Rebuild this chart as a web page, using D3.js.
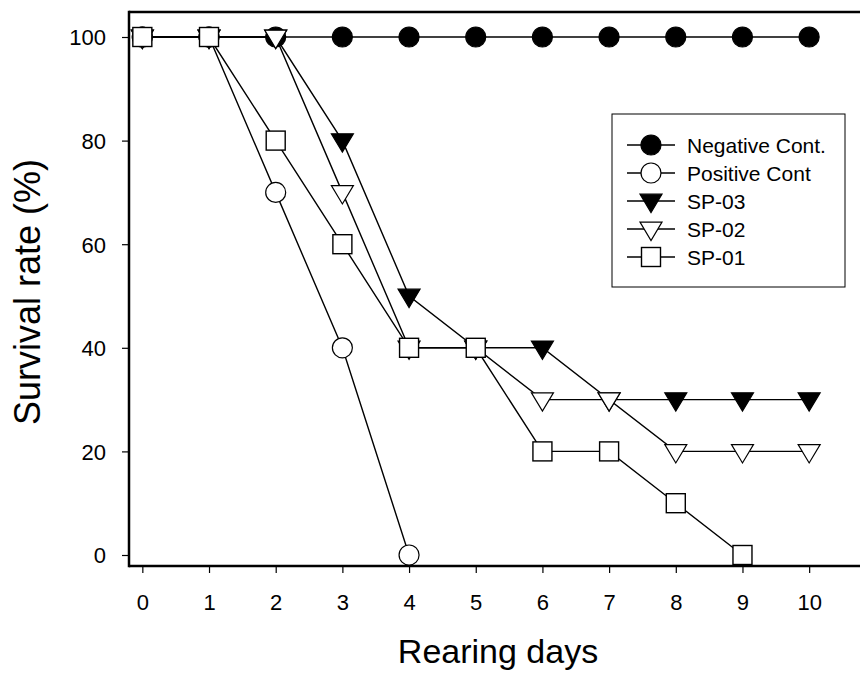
<!DOCTYPE html>
<html><head><meta charset="utf-8">
<script src="https://cdn.jsdelivr.net/npm/d3@7"></script>
<style>body{margin:0;background:#fff}svg{display:block}</style>
</head><body>
<svg id="c" width="860" height="675"></svg>
<script>
const days = [0,1,2,3,4,5,6,7,8,9,10];
const negativeCont = [100,100,100,100,100,100,100,100,100,100,100];
const positiveCont = [100,100,70,40,0];
const sp03 = [100,100,100,80,50,40,40,30,30,30,30];
const sp02 = [100,100,100,70,40,40,30,30,20,20,20];
const sp01 = [100,100,80,60,40,40,20,20,10,0];
const xTicks = [0,1,2,3,4,5,6,7,8,9,10];
const yTicks = [0,20,40,60,80,100];
const seriesNames = ["Negative Cont.","Positive Cont","SP-03","SP-02","SP-01"];
const seriesValues = [negativeCont, positiveCont, sp03, sp02, sp01];
const seriesMarkers = ["circleFilled","circleOpen","triFilled","triOpen","squareOpen"];

const svg = d3.select("#c");
const font = "Arial, 'Liberation Sans', sans-serif";
const x = d3.scaleLinear().domain([-0.2, 10.8]).range([129, 862.5]);
const y = d3.scaleLinear().domain([0, 100]).range([555, 37]);
const yBottom = 566, yTop = 12;

svg.append("defs").append("clipPath").attr("id","cl")
  .append("rect").attr("x",0).attr("y",0).attr("width",860).attr("height",675);

// frame
svg.append("line").attr("x1",129).attr("x2",862).attr("y1",yTop).attr("y2",yTop).attr("stroke","#000").attr("stroke-width",2.5);
svg.append("line").attr("x1",129).attr("x2",129).attr("y1",yTop-1.25).attr("y2",yBottom+1.25).attr("stroke","#000").attr("stroke-width",2.5);

// axes
const xAxis = d3.axisBottom(x).tickValues(xTicks).tickSize(7).tickFormat(d3.format("d"));
const gx = svg.append("g").attr("transform",`translate(0,${yBottom})`).call(xAxis);
gx.select(".domain").attr("d", `M129,0H862`).attr("stroke-width",2.5);
gx.selectAll(".tick line").attr("stroke-width",1.2);
gx.selectAll("text").attr("font-family",font).attr("font-size",22).attr("fill","#000")
  .attr("y",44).attr("dy",0);

const yAxis = d3.axisLeft(y).tickValues(yTicks).tickSize(7).tickPadding(16).tickFormat(d3.format("d"));
const gy = svg.append("g").attr("transform",`translate(129,0)`).call(yAxis);
gy.select(".domain").remove();
gy.selectAll(".tick line").attr("stroke-width",1.2);
gy.selectAll("text").attr("font-family",font).attr("font-size",22).attr("fill","#000").attr("dy","0.36em");

// titles
svg.append("text").attr("x",498).attr("y",663).attr("text-anchor","middle")
  .attr("font-family",font).attr("font-size",34).text("Rearing days");
svg.append("text").attr("transform","translate(40,292) rotate(-90)").attr("text-anchor","middle")
  .attr("font-family",font).attr("font-size",36).text("Survival rate (%)");

function drawMarker(g, type, cx, cy) {
  if (type === "circleFilled" || type === "circleOpen") {
    g.append("circle").attr("cx",cx).attr("cy",cy).attr("r",10)
      .attr("fill", type==="circleFilled" ? "#000" : "#fff").attr("stroke","#000").attr("stroke-width",1.2);
  } else if (type === "triFilled" || type === "triOpen") {
    const s = 11;
    g.append("path").attr("d",`M${cx-s},${cy-s*0.62}L${cx+s},${cy-s*0.62}L${cx},${cy+s*1.05}Z`)
      .attr("fill", type==="triFilled" ? "#000" : "#fff").attr("stroke","#000").attr("stroke-width",1.2);
  } else {
    const s = 9.5;
    g.append("rect").attr("x",cx-s).attr("y",cy-s).attr("width",2*s).attr("height",2*s)
      .attr("fill","#fff").attr("stroke","#000").attr("stroke-width",1.4);
  }
}

const line = d3.line().x((d,i)=>x(days[i])).y(d=>y(d));
const plot = svg.append("g").attr("clip-path","url(#cl)");
seriesValues.forEach((vals, k) => {
  const g = plot.append("g");
  g.append("path").datum(vals).attr("d", line).attr("fill","none").attr("stroke","#000").attr("stroke-width",1.4);
  vals.forEach((v,i) => drawMarker(g, seriesMarkers[k], x(days[i]), y(v)));
});

// legend
const lg = svg.append("g");
lg.append("rect").attr("x",612).attr("y",114).attr("width",233).attr("height",173)
  .attr("fill","#fff").attr("stroke","#000").attr("stroke-width",1);
seriesNames.forEach((name,k) => {
  const ly = 145 + k*28;
  lg.append("line").attr("x1",627).attr("x2",675).attr("y1",ly).attr("y2",ly).attr("stroke","#000").attr("stroke-width",1.4);
  drawMarker(lg, seriesMarkers[k], 651, ly);
  lg.append("text").attr("x",687).attr("y",ly+7.5).attr("font-family",font).attr("font-size",21).text(name);
});
</script>
</body></html>
